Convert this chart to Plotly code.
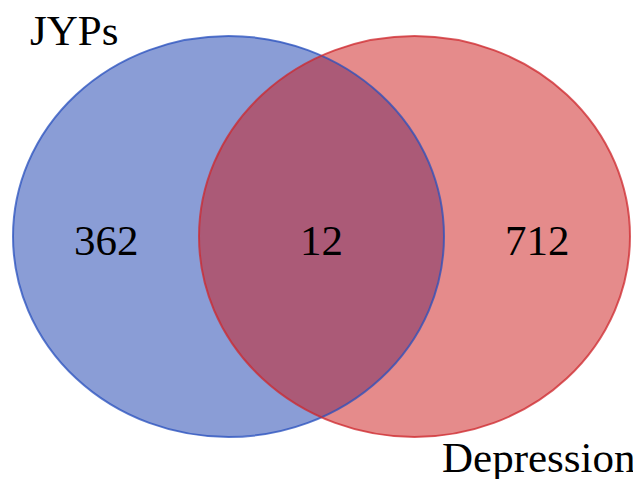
import plotly.graph_objects as go

# ---- data ----
set_names = ["JYPs", "Depression"]
region_counts = [362, 12, 712]  # only JYPs, both, only Depression

# ---- geometry / style (pixel-like coordinate frame) ----
W, H = 641, 479
PAGE_OFF = 8  # default body margin of the html page
ell_y = (36, 437)
ell_x = [(13, 444), (199, 630)]
fill_cols = ["rgb(21,59,173)", "rgb(203,23,23)"]
line_cols = ["rgba(40,80,190,0.75)", "rgba(205,40,45,0.75)"]
font = dict(family="Liberation Serif", size=43, color="black")

fig = go.Figure()
shapes = []
for (x0, x1), fc in zip(ell_x, fill_cols):
    shapes.append(dict(type="circle", xref="x", yref="y", x0=x0, x1=x1,
                       y0=ell_y[0], y1=ell_y[1], fillcolor=fc, opacity=0.5,
                       line=dict(width=0), layer="above"))
for (x0, x1), lc in zip(ell_x, line_cols):
    shapes.append(dict(type="circle", xref="x", yref="y", x0=x0, x1=x1,
                       y0=ell_y[0], y1=ell_y[1], fillcolor="rgba(0,0,0,0)",
                       line=dict(color=lc, width=2), layer="above"))

cy = (ell_y[0] + ell_y[1]) / 2
left_only_x = (ell_x[0][0] + ell_x[1][0]) / 2
both_x = (ell_x[1][0] + ell_x[0][1]) / 2
right_only_x = (ell_x[0][1] + ell_x[1][1]) / 2

annotations = []
for xpos, val in zip([left_only_x, both_x, right_only_x], region_counts):
    annotations.append(dict(x=xpos, y=cy + 4, text=str(val), showarrow=False,
                            xanchor="center", yanchor="middle", font=font))
annotations.append(dict(x=74, y=30, text=set_names[0], showarrow=False,
                        xanchor="center", yanchor="middle", font=font))
annotations.append(dict(x=538, y=457, text=set_names[1], showarrow=False,
                        xanchor="center", yanchor="middle", font=font))

fig.update_layout(
    width=W, height=H, margin=dict(l=0, r=0, t=0, b=0),
    paper_bgcolor="white", plot_bgcolor="white",
    xaxis=dict(range=[PAGE_OFF, W + PAGE_OFF], visible=False, fixedrange=True),
    yaxis=dict(range=[H + PAGE_OFF, PAGE_OFF], visible=False, fixedrange=True),
    shapes=shapes, annotations=annotations, showlegend=False,
)
fig.write_html("out.html", config={"displayModeBar": False})
